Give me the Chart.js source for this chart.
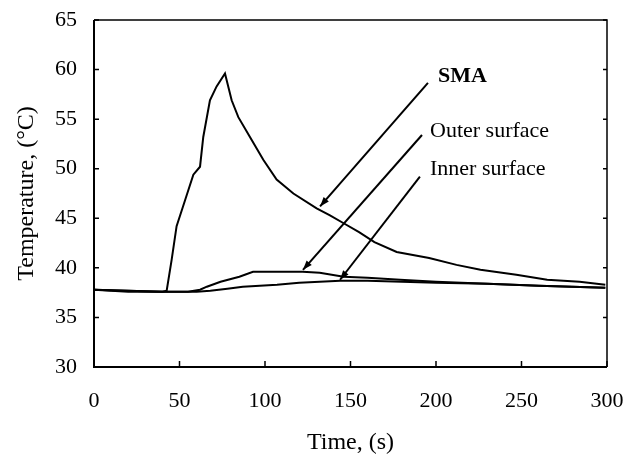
<!DOCTYPE html>
<html>
<head>
<meta charset="utf-8">
<script src="https://cdn.jsdelivr.net/npm/chart.js@4/dist/chart.umd.min.js"></script>
<style>
  html, body { margin: 0; padding: 0; background: #fff; }
  #wrap { width: 638px; height: 461px; }
</style>
</head>
<body>
<div id="wrap"><canvas id="tempChart" width="638" height="461"></canvas></div>
<script>
// Temperature histories
var smaTime = [0, 10, 20, 30, 40, 42.5, 45.4, 48.3, 53.2, 58.1, 62, 63.9, 67.8, 71.7, 76.6, 80.5, 84.4, 91.2, 99, 106.8, 116.6, 130.2, 138, 146, 155, 164, 177, 196, 212, 226, 247, 265, 284, 299];
var smaTemp = [37.8, 37.7, 37.6, 37.6, 37.6, 37.7, 40.8, 44.2, 46.8, 49.4, 50.2, 53.2, 56.9, 58.3, 59.6, 56.9, 55.2, 53.2, 50.9, 48.9, 47.5, 46.0, 45.3, 44.5, 43.6, 42.6, 41.6, 41.0, 40.3, 39.8, 39.3, 38.8, 38.6, 38.3];

var outerTime = [0, 20, 40, 55, 62, 66, 74, 85, 93, 105, 122, 132, 146, 160, 179, 200, 230, 260, 299];
var outerTemp = [37.8, 37.7, 37.6, 37.6, 37.8, 38.1, 38.6, 39.1, 39.6, 39.6, 39.6, 39.5, 39.1, 39.0, 38.8, 38.6, 38.4, 38.2, 38.0];

var innerTime = [0, 20, 40, 60, 68, 78, 87, 97, 107, 120, 132, 144, 160, 180, 200, 230, 260, 299];
var innerTemp = [37.8, 37.7, 37.6, 37.6, 37.7, 37.9, 38.1, 38.2, 38.3, 38.5, 38.6, 38.7, 38.7, 38.6, 38.5, 38.4, 38.2, 38.0];

var xTicks = [0, 50, 100, 150, 200, 250, 300];
var yTicks = [30, 35, 40, 45, 50, 55, 60, 65];

// callout labels and their arrows, in data units (time, temperature)
var calloutText = ['SMA', 'Outer surface', 'Inner surface'];
var calloutBold = [true, false, false];
var calloutLabelAt = [[201.2, 58.75], [196.5, 53.2], [196.5, 49.4]];
var calloutFrom = [[195.3, 58.65], [191.8, 53.4], [190.6, 49.2]];
var calloutTo = [[132.2, 46.2], [122.2, 39.8], [143.9, 38.8]];

function toPoints(xs, ys) {
    return xs.map(function (x, i) { return { x: x, y: ys[i] }; });
}

var serif = '"Liberation Serif", "Times New Roman", serif';

var framePlugin = {
    id: 'frameAndTicks',
    afterDraw: function (chart) {
        var ctx = chart.ctx;
        var a = chart.chartArea;
        var xs = chart.scales.x, ys = chart.scales.y;
        ctx.save();
        ctx.strokeStyle = '#000';
        ctx.lineWidth = 2;
        ctx.beginPath();
        ctx.moveTo(a.left, a.top);
        ctx.lineTo(a.left, a.bottom);
        ctx.lineTo(a.right, a.bottom);
        ctx.stroke();
        ctx.lineWidth = 1.5;
        ctx.beginPath();
        ctx.moveTo(a.left, a.top);
        ctx.lineTo(a.right, a.top);
        ctx.lineTo(a.right, a.bottom);
        ctx.stroke();
        // inward ticks
        ctx.lineWidth = 1.5;
        ctx.beginPath();
        xTicks.forEach(function (v) {
            var px = xs.getPixelForValue(v);
            ctx.moveTo(px, a.bottom);
            ctx.lineTo(px, a.bottom - 6);
        });
        yTicks.forEach(function (v) {
            var py = ys.getPixelForValue(v);
            ctx.moveTo(a.left, py);
            ctx.lineTo(a.left + 5, py);
            ctx.moveTo(a.right, py);
            ctx.lineTo(a.right - 4, py);
        });
        ctx.stroke();

        // callouts
        ctx.lineWidth = 2;
        ctx.fillStyle = '#000';
        calloutText.forEach(function (txt, i) {
            var x1 = xs.getPixelForValue(calloutFrom[i][0]);
            var y1 = ys.getPixelForValue(calloutFrom[i][1]);
            var x2 = xs.getPixelForValue(calloutTo[i][0]);
            var y2 = ys.getPixelForValue(calloutTo[i][1]);
            ctx.beginPath();
            ctx.moveTo(x1, y1);
            ctx.lineTo(x2, y2);
            ctx.stroke();
            var ang = Math.atan2(y2 - y1, x2 - x1);
            var len = 10, half = 0.35;
            ctx.beginPath();
            ctx.moveTo(x2, y2);
            ctx.lineTo(x2 - len * Math.cos(ang - half), y2 - len * Math.sin(ang - half));
            ctx.lineTo(x2 - len * Math.cos(ang + half), y2 - len * Math.sin(ang + half));
            ctx.closePath();
            ctx.fill();

            ctx.font = (calloutBold[i] ? 'bold ' : '') + '22px ' + serif;
            ctx.textAlign = 'left';
            ctx.textBaseline = 'alphabetic';
            ctx.fillText(txt, xs.getPixelForValue(calloutLabelAt[i][0]), ys.getPixelForValue(calloutLabelAt[i][1]));
        });
        ctx.restore();
    }
};

var ctx = document.getElementById('tempChart').getContext('2d');

var chart = new Chart(ctx, {
    type: 'line',
    data: {
        datasets: [{
            label: 'SMA',
            data: toPoints(smaTime, smaTemp),
            borderColor: '#000',
            borderWidth: 2,
            pointRadius: 0,
            tension: 0
        }, {
            label: 'Outer surface',
            data: toPoints(outerTime, outerTemp),
            borderColor: '#000',
            borderWidth: 2,
            pointRadius: 0,
            tension: 0
        }, {
            label: 'Inner surface',
            data: toPoints(innerTime, innerTemp),
            borderColor: '#000',
            borderWidth: 2,
            pointRadius: 0,
            tension: 0
        }]
    },
    options: {
        responsive: false,
        animation: false,
        layout: { padding: { top: 20, right: 31, left: 0, bottom: 0 } },
        plugins: {
            legend: { display: false },
            tooltip: { enabled: false }
        },
        scales: {
            x: {
                type: 'linear',
                min: 0,
                max: 300,
                afterFit: function (s) {
                    s.height = 94;
                    s.paddingLeft = 0;
                    s.paddingRight = 0;
                },
                afterBuildTicks: function (s) { s.ticks = xTicks.map(function (v) { return { value: v }; }); },
                grid: { display: false, drawTicks: false },
                border: { display: false },
                ticks: {
                    color: '#000',
                    padding: 21,
                    font: { family: serif, size: 22 },
                    maxRotation: 0
                },
                title: {
                    display: true,
                    text: 'Time, (s)',
                    color: '#000',
                    font: { family: serif, size: 24 },
                    padding: { top: 0, bottom: 4 }
                }
            },
            y: {
                min: 30,
                max: 65,
                afterFit: function (s) {
                    s.width = 94;
                    s.paddingTop = 0;
                    s.paddingBottom = 0;
                },
                afterBuildTicks: function (s) { s.ticks = yTicks.map(function (v) { return { value: v }; }); },
                grid: { display: false, drawTicks: false },
                border: { display: false },
                ticks: {
                    color: '#000',
                    padding: 17,
                    font: { family: serif, size: 22 }
                },
                title: {
                    display: true,
                    text: 'Temperature, (°C)',
                    color: '#000',
                    font: { family: serif, size: 24 },
                    padding: { top: 12, bottom: 0 }
                }
            }
        }
    },
    plugins: [framePlugin]
});
</script>
</body>
</html>
